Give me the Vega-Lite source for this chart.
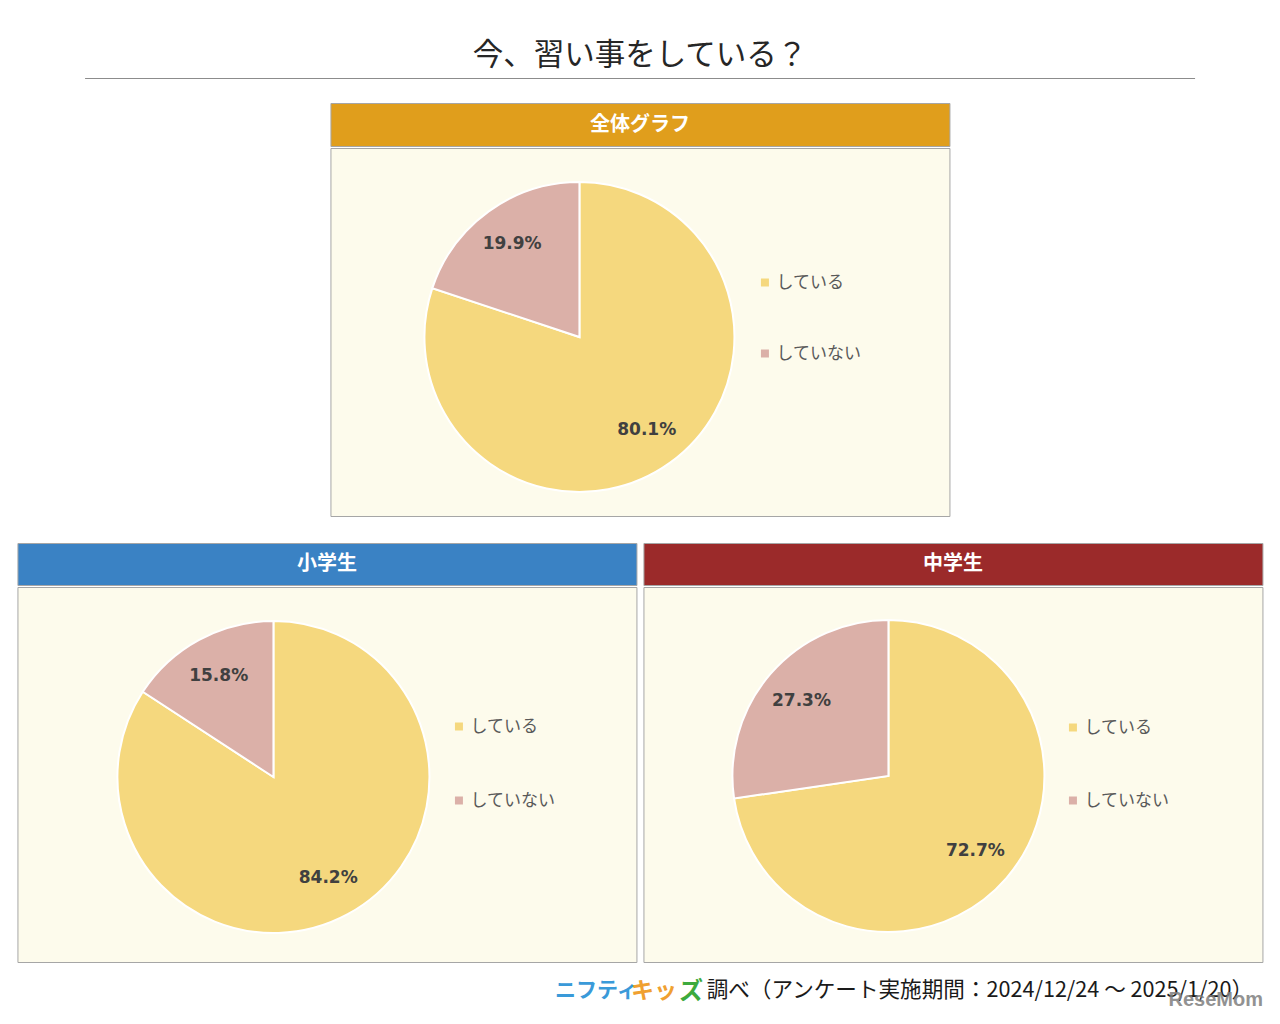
{
  "$schema": "https://vega.github.io/schema/vega-lite/v6.json",
  "background": "#FFFFFF",
  "padding": {"left": 16, "right": 16, "top": 40, "bottom": 8},
  "autosize": {"type": "pad"},
  "config": {"view": {"stroke": null}, "font": "Noto Sans CJK JP"},
  "datasets": {
    "all": [{"answer": "している", "share": 0.801}, {"answer": "していない", "share": 0.199}],
    "elem": [{"answer": "している", "share": 0.842}, {"answer": "していない", "share": 0.158}],
    "jhs": [{"answer": "している", "share": 0.727}, {"answer": "していない", "share": 0.273}],
    "heads": [{"panel": "全体グラフ"}, {"panel": "小学生"}, {"panel": "中学生"}]
  },
  "center": true,
  "spacing": 16,
  "resolve": {"scale": {"color": "independent"}, "legend": {"color": "independent"}},
  "vconcat": [
    {
      "center": true,
      "spacing": 23,
      "resolve": {"scale": {"color": "independent"}, "legend": {"color": "independent"}},
      "vconcat": [
        {
          "width": 1110,
          "height": 1,
          "view": {"fill": "#8C8C8C", "stroke": null},
          "data": {"values": [{"t": "今、習い事をしている？"}]},
          "mark": {"type": "text", "baseline": "middle", "dy": -23, "fontSize": 30.5, "fill": "#262626", "font": "Noto Sans CJK JP"},
          "encoding": {"text": {"field": "t"}}
        },
        {
          "center": true,
          "spacing": 25,
          "resolve": {"scale": {"color": "independent"}, "legend": {"color": "independent"}},
          "vconcat": [
            {
              "spacing": 0,
              "vconcat": [
                {
                  "width": 619,
                  "height": 43,
                  "view": {"fill": "#E09E1C", "stroke": "#A6A6A6"},
                  "data": {"name": "heads"},
                  "transform": [{"filter": "datum.panel == '全体グラフ'"}],
                  "mark": {"type": "text", "baseline": "middle", "fontSize": 20, "fontWeight": "bold", "fill": "#FFFFFF", "font": "Noto Sans CJK JP"},
                  "encoding": {"text": {"field": "panel"}}
                },
                {
                  "width": 619,
                  "height": 368,
                  "view": {"fill": "#FDFBEC", "stroke": "#A6A6A6"},
                  "data": {"name": "all"},
                  "encoding": {
                    "theta": {"field": "share", "type": "quantitative", "stack": true},
                    "order": {"field": "share", "type": "quantitative", "sort": "descending"}
                  },
                  "layer": [
                    {
                      "mark": {"type": "arc", "outerRadius": 155, "stroke": "#FFFFFF", "strokeWidth": 2, "x": 249, "y": 189},
                      "encoding": {
                        "color": {
                          "field": "answer", "type": "nominal",
                          "scale": {"domain": ["している", "していない"], "range": ["#F5D87E", "#DBB0A8"]},
                          "legend": {"orient": "none", "legendX": 426, "legendY": 171, "title": null, "symbolType": "square", "symbolSize": 64, "symbolStrokeWidth": 0, "labelFontSize": 17, "labelColor": "#595959", "labelFont": "Noto Sans CJK JP", "rowPadding": 53, "labelOffset": 3}
                        }
                      }
                    },
                    {
                      "mark": {"type": "text", "radius": 115, "x": 249, "y": 189, "font": "DejaVu Sans", "fontWeight": "bold", "fontSize": 17, "fill": "#404040"},
                      "encoding": {
                        "detail": {"field": "answer"},
                        "text": {"field": "share", "type": "quantitative", "format": ".1%"}
                      }
                    }
                  ]
                }
              ]
            },
            {
              "spacing": 5,
              "resolve": {"scale": {"color": "independent"}, "legend": {"color": "independent"}},
              "hconcat": [
                {
                  "spacing": 0,
                  "vconcat": [
                    {
                      "width": 619,
                      "height": 42,
                      "view": {"fill": "#3A82C4", "stroke": "#A6A6A6"},
                      "data": {"name": "heads"},
                      "transform": [{"filter": "datum.panel == '小学生'"}],
                      "mark": {"type": "text", "baseline": "middle", "fontSize": 20, "fontWeight": "bold", "fill": "#FFFFFF", "font": "Noto Sans CJK JP"},
                      "encoding": {"text": {"field": "panel"}}
                    },
                    {
                      "width": 619,
                      "height": 375,
                      "view": {"fill": "#FDFBEC", "stroke": "#A6A6A6"},
                      "data": {"name": "elem"},
                      "encoding": {
                        "theta": {"field": "share", "type": "quantitative", "stack": true},
                        "order": {"field": "share", "type": "quantitative", "sort": "descending"}
                      },
                      "layer": [
                        {
                          "mark": {"type": "arc", "outerRadius": 156, "stroke": "#FFFFFF", "strokeWidth": 2, "x": 256, "y": 190},
                          "encoding": {
                            "color": {
                              "field": "answer", "type": "nominal",
                              "scale": {"domain": ["している", "していない"], "range": ["#F5D87E", "#DBB0A8"]},
                              "legend": {"orient": "none", "legendX": 433, "legendY": 175, "title": null, "symbolType": "square", "symbolSize": 64, "symbolStrokeWidth": 0, "labelFontSize": 17, "labelColor": "#595959", "labelFont": "Noto Sans CJK JP", "rowPadding": 56, "labelOffset": 3}
                            }
                          }
                        },
                        {
                          "mark": {"type": "text", "radius": 115, "x": 256, "y": 190, "font": "DejaVu Sans", "fontWeight": "bold", "fontSize": 17, "fill": "#404040"},
                          "encoding": {
                            "detail": {"field": "answer"},
                            "text": {"field": "share", "type": "quantitative", "format": ".1%"}
                          }
                        }
                      ]
                    }
                  ]
                },
                {
                  "spacing": 0,
                  "vconcat": [
                    {
                      "width": 619,
                      "height": 42,
                      "view": {"fill": "#9B2A2A", "stroke": "#A6A6A6"},
                      "data": {"name": "heads"},
                      "transform": [{"filter": "datum.panel == '中学生'"}],
                      "mark": {"type": "text", "baseline": "middle", "fontSize": 20, "fontWeight": "bold", "fill": "#FFFFFF", "font": "Noto Sans CJK JP"},
                      "encoding": {"text": {"field": "panel"}}
                    },
                    {
                      "width": 619,
                      "height": 375,
                      "view": {"fill": "#FDFBEC", "stroke": "#A6A6A6"},
                      "data": {"name": "jhs"},
                      "encoding": {
                        "theta": {"field": "share", "type": "quantitative", "stack": true},
                        "order": {"field": "share", "type": "quantitative", "sort": "descending"}
                      },
                      "layer": [
                        {
                          "mark": {"type": "arc", "outerRadius": 156, "stroke": "#FFFFFF", "strokeWidth": 2, "x": 245, "y": 189},
                          "encoding": {
                            "color": {
                              "field": "answer", "type": "nominal",
                              "scale": {"domain": ["している", "していない"], "range": ["#F5D87E", "#DBB0A8"]},
                              "legend": {"orient": "none", "legendX": 421, "legendY": 176, "title": null, "symbolType": "square", "symbolSize": 64, "symbolStrokeWidth": 0, "labelFontSize": 17, "labelColor": "#595959", "labelFont": "Noto Sans CJK JP", "rowPadding": 55, "labelOffset": 3}
                            }
                          }
                        },
                        {
                          "mark": {"type": "text", "radius": 115, "x": 245, "y": 189, "font": "DejaVu Sans", "fontWeight": "bold", "fontSize": 17, "fill": "#404040"},
                          "encoding": {
                            "detail": {"field": "answer"},
                            "text": {"field": "share", "type": "quantitative", "format": ".1%"}
                          }
                        }
                      ]
                    }
                  ]
                }
              ]
            }
          ]
        }
      ]
    },
    {
      "width": 1246,
      "height": 1,
      "view": {"fill": null, "stroke": null},
      "data": {"values": [{"a": "ニフティ", "b": "キッ", "c": "ズ", "d": "調べ（アンケート実施期間：2024/12/24 ～ 2025/1/20）", "e": "ReseMom"}]},
      "layer": [
        {"mark": {"type": "text", "align": "left", "baseline": "top", "x": 538, "fontSize": 21, "fontWeight": "bold", "fill": "#3A9AD9", "font": "Noto Sans CJK JP"}, "encoding": {"text": {"field": "a"}}},
        {"mark": {"type": "text", "align": "left", "baseline": "top", "x": 614, "fontSize": 23, "fontWeight": "bold", "fill": "#F0A030", "font": "Noto Sans CJK JP"}, "encoding": {"text": {"field": "b"}}},
        {"mark": {"type": "text", "align": "left", "baseline": "top", "x": 662, "fontSize": 24, "fontWeight": "bold", "fill": "#3DAA3D", "font": "Noto Sans CJK JP"}, "encoding": {"text": {"field": "c"}}},
        {"mark": {"type": "text", "align": "right", "baseline": "top", "x": 1236, "fontSize": 21.6, "fill": "#1A1A1A", "font": "Noto Sans CJK JP"}, "encoding": {"text": {"field": "d"}}},
        {"mark": {"type": "text", "align": "right", "baseline": "top", "x": 1246, "dy": 10, "fontSize": 20, "fontWeight": "bold", "fill": "#7F7F7F", "opacity": 0.85, "font": "Liberation Sans, sans-serif"}, "encoding": {"text": {"field": "e"}}}
      ]
    }
  ]
}
